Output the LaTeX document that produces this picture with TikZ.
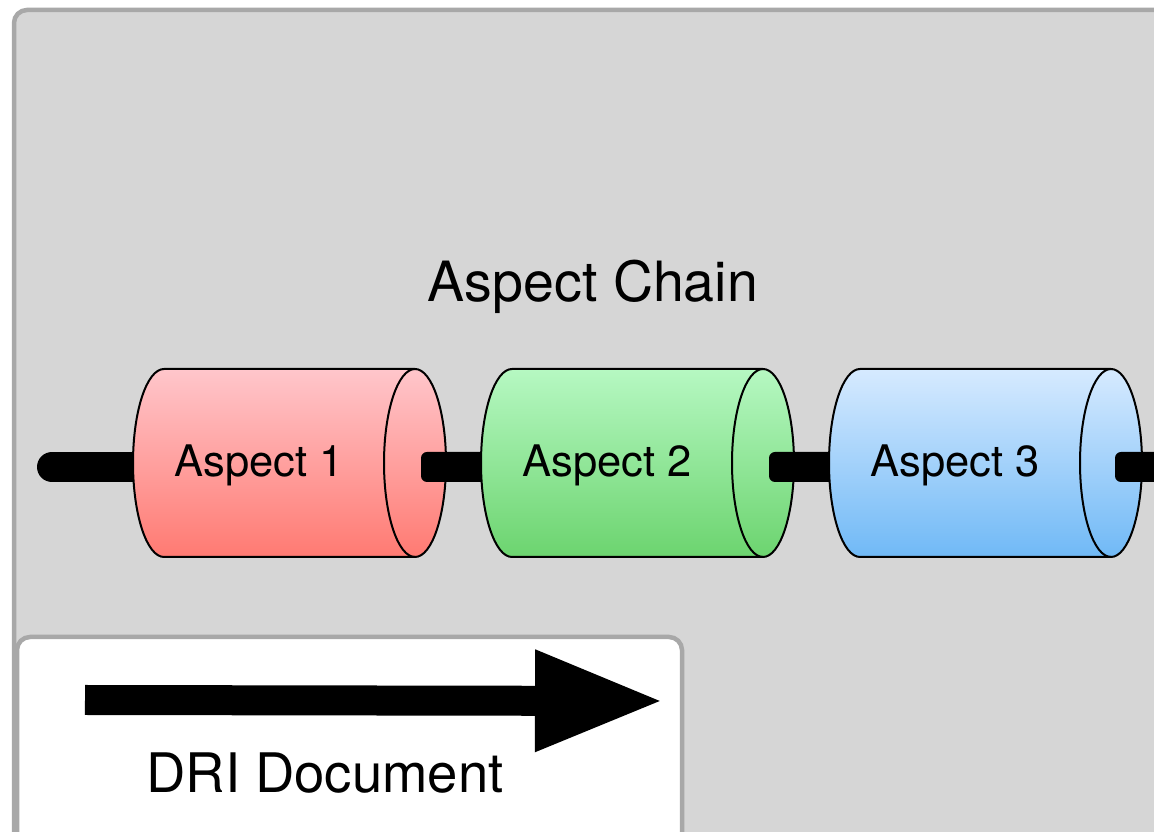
\documentclass[tikz,border=0pt]{standalone}
\usepackage{fontspec}
\setmainfont{TeX Gyre Heros}
\usetikzlibrary{arrows.meta}
\definecolor{framegray}{HTML}{A8A8A8}
\definecolor{panelgray}{HTML}{D6D6D6}
\definecolor{redtop}{HTML}{FFC6CB}
\definecolor{redbot}{HTML}{FF7A72}
\definecolor{greentop}{HTML}{B6F8C2}
\definecolor{greenbot}{HTML}{6CD46F}
\definecolor{bluetop}{HTML}{D6EAFF}
\definecolor{bluebot}{HTML}{70B9F6}
\tikzset{
  panel/.style={draw=framegray, line width=4.5pt, rounded corners=13pt},
  rod/.style={fill=black, rounded corners=6pt},
  cyloutline/.style={draw=black, line width=2pt},
  aspectlabel/.style={font=\fontsize{43.5}{50}\selectfont, anchor=base, inner sep=0pt},
}
% #1 left x, #2 top colour, #3 bottom colour, #4 label name, #5 text
\newcommand\mycylinder[5]{%
  \path[cyloutline, top color=#2, bottom color=#3]
    (#1+31,463) -- (#1+282,463)
    arc[start angle=90, end angle=-90, x radius=31pt, y radius=94pt]
    -- (#1+31,275)
    arc[start angle=270, end angle=90, x radius=31pt, y radius=94pt] -- cycle;
  \draw[cyloutline] (#1+282,463)
    arc[start angle=90, end angle=270, x radius=31pt, y radius=94pt];
  \node[aspectlabel] (#4) at (#1+126,355) {#5};
  \coordinate (#4in) at (#1+8,365);
  \coordinate (#4out) at (#1+288,365);
}
\begin{document}
\begin{tikzpicture}[x=1pt,y=1pt]
\useasboundingbox (0,0) rectangle (1154,832);
\clip (0,0) rectangle (1154,832);
\fill[white] (0,0) rectangle (1154,832);
% outer panel
\path[panel, fill=panelgray] (14,822) rectangle (1190,-40);
% title
\node[font=\fontsize{55.5}{64}\selectfont, anchor=base, inner sep=0pt] (title) at (593,530) {Aspect Chain};
% left rod
\coordinate (start) at (52,365);
\draw[line width=30pt, line cap=round] (start) -- (148,365);
\mycylinder{133}{redtop}{redbot}{a1}{Aspect 1}
\coordinate (a2in) at (490,365);
\path[rod] ([yshift=-15pt]a1out) rectangle ([yshift=15pt]a2in);
\mycylinder{481}{greentop}{greenbot}{a2}{Aspect 2}
\coordinate (a3in) at (838,365);
\path[rod] ([yshift=-15pt]a2out) rectangle ([yshift=15pt]a3in);
\mycylinder{829}{bluetop}{bluebot}{a3}{Aspect 3}
\coordinate (finish) at (1175,365);
\path[rod] ([yshift=-15pt,xshift=-2pt]a3out) rectangle ([yshift=15pt]finish);
% DRI document panel
\path[panel, fill=white] (17,195) rectangle (682,-40);
\coordinate (arrstart) at (85,132);
\coordinate (arrend) at (665,131);
\draw[line width=30pt, -{Triangle[length=130pt, width=93pt]}] (arrstart) -- (arrend);
\node[font=\fontsize{54.5}{62}\selectfont, anchor=base, inner sep=0pt] (dri) at (325,39) {DRI Document};
\end{tikzpicture}
\end{document}
